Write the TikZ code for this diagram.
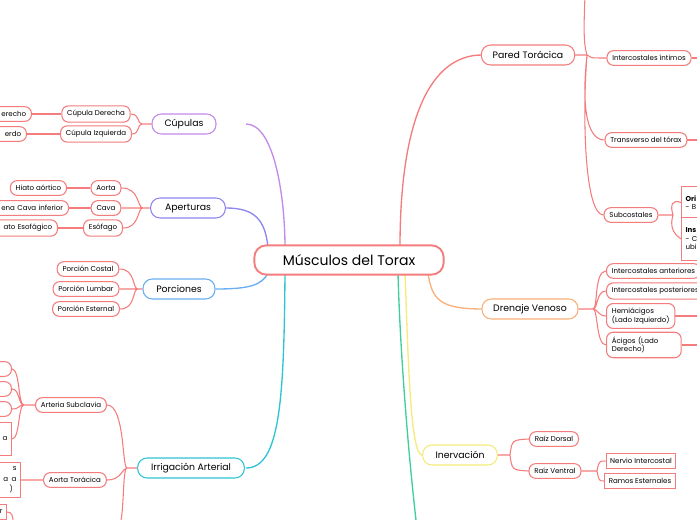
\documentclass[tikz,border=0pt]{standalone}
\usepackage{fontspec}
\setmainfont{Poppins}
\definecolor{crl}{HTML}{F47C7C}
\definecolor{cpur}{HTML}{C38AE8}
\definecolor{capc}{HTML}{8F86F0}
\definecolor{cpor}{HTML}{6AAEF2}
\definecolor{cirr}{HTML}{2EC4D2}
\definecolor{cgrn}{HTML}{3ECF9A}
\definecolor{cdr}{HTML}{F9B07A}
\definecolor{cin}{HTML}{F5EB7A}
\begin{document}
\begin{tikzpicture}[x=0.75pt,y=-0.75pt,
 leaf/.style={draw=crl,line width=0.8pt,rounded corners=5pt,fill=white,font=\fontsize{5.3}{6.5}\selectfont,minimum height=11pt,inner xsep=4pt},
 rbox/.style={draw=crl,line width=0.8pt,fill=white,font=\fontsize{5.3}{6.5}\selectfont,minimum height=11pt,inner xsep=3pt},
 main/.style={line width=0.8pt,rounded corners=7pt,fill=white,font=\fontsize{7}{8}\selectfont,minimum height=15pt},
 rl/.style={crl,line width=0.8pt},
 bl/.style={line width=1pt}]
\useasboundingbox (0,0) rectangle (697,520);
\clip (0,0) rectangle (697,520);
% central branches
\draw[bl,cpur] (246,124) .. controls (275,124) and (285,200) .. (285,247);
\draw[bl,capc] (226,208) .. controls (255,208) and (265,220) .. (268,247);
\draw[bl,cpor] (216,289) .. controls (250,289) and (262,285) .. (268,273);
\draw[bl,cirr] (246,468) .. controls (280,468) and (284,400) .. (285,273);
\draw[bl,crl] (482,55) .. controls (430,55) and (400,120) .. (400,247);
\draw[bl,cdr] (483,309) .. controls (440,309) and (432,300) .. (428,273);
\draw[bl,cin] (422,455) .. controls (410,455) and (408,350) .. (405,273);
\draw[bl,cgrn] (398,273) .. controls (400,350) and (408,450) .. (416,520);
\node[main,draw=crl,line width=1.4pt,rounded corners=9pt,minimum width=142pt,font=\fontsize{10.5}{12}\selectfont,minimum height=22pt] (c) at (349,260) {Músculos del Torax};
% left: Cúpulas
\node[main,draw=cpur,minimum width=48pt] (cup) at (184,124) {Cúpulas};
\node[leaf] (cd) at (96,114) {Cúpula Derecha};
\node[leaf] (ci) at (96,134) {Cúpula Izquierda};
\node[leaf,anchor=east,text width=60pt,align=right] (cd2) at (32,114) {erecho};
\node[leaf,anchor=east,text width=60pt,align=right] (ci2) at (27,134) {erdo};
\coordinate (jc) at (142,124);
\draw[rl] (cup.west)--(jc) (jc) .. controls (137,124) and (140,114) .. (cd.east) (jc) .. controls (137,124) and (140,134) .. (ci.east);
\draw[rl] (cd.west)--(cd2.east) (ci.west)--(ci2.east);
% Aperturas
\node[main,draw=capc,minimum width=56pt] (ap) at (188,208) {Aperturas};
\node[leaf] (ao) at (106,188) {Aorta};
\node[leaf] (ca) at (106,208) {Cava};
\node[leaf] (es) at (103,228) {Esófago};
\node[leaf,anchor=east] (ha) at (67,188) {Hiato aórtico};
\node[leaf,anchor=east,text width=80pt,align=right] (vc) at (69,208) {ena Cava inferior};
\node[leaf,anchor=east,text width=70pt,align=right] (he) at (58,228) {ato Esofágico};
\coordinate (ja) at (143,208);
\draw[rl] (ap.west)--(ja) (ja)--(ca.east) (ja) .. controls (137,208) and (140,188) .. (ao.east) (ja) .. controls (137,208) and (140,228) .. (es.east);
\draw[rl] (ao.west)--(ha.east) (ca.west)--(vc.east) (es.west)--(he.east);
% Porciones
\node[main,draw=cpor,minimum width=54pt] (po) at (179,289) {Porciones};
\node[leaf] (pc) at (88,269) {Porción Costal};
\node[leaf] (pl) at (86,289) {Porción Lumbar};
\node[leaf] (pe) at (86,309) {Porción Esternal};
\coordinate (jp) at (138,289);
\draw[rl] (po.west)--(jp) (jp)--(pl.east) (jp) .. controls (132,289) and (136,269) .. (pc.east) (jp) .. controls (132,289) and (136,309) .. (pe.east);
% Irrigación
\node[main,draw=cirr,minimum width=80pt] (ir) at (191,468) {Irrigación Arterial};
\node[leaf] (as) at (71,405) {Arteria Subclavia};
\node[leaf] (at) at (75,480) {Aorta Torácica};
\coordinate (ji) at (127,468);
\draw[rl] (ir.west)--(ji) (ji) .. controls (122,468) and (125,405) .. (as.east) (ji) .. controls (122,468) and (122,480) .. (at.east) (ji) .. controls (122,468) and (125,520) .. (118,530);
\node[leaf,anchor=east,text width=30pt] (s1) at (12,369) {};
\node[leaf,anchor=east,text width=30pt] (s2) at (12,389) {};
\node[leaf,anchor=east,text width=30pt] (s3) at (12,409) {};
\node[rbox,anchor=east,text width=30pt,minimum height=25pt,align=right] (s4) at (12,439) {a};
\node[rbox,anchor=east,text width=30pt,minimum height=25pt,align=right,font=\fontsize{5.3}{8}\selectfont] (s5) at (21,480) {s\\a\enspace a\\)\enspace};
\node[rbox,anchor=east,text width=30pt,align=right] (s6) at (7,512) {r};
\coordinate (js) at (24,405);
\draw[rl] (as.west)--(js) (js) .. controls (18,405) and (20,369) .. (s1.east) (js) .. controls (18,405) and (20,389) .. (s2.east) (js) .. controls (18,405) and (20,409) .. (s3.east) (js) .. controls (18,405) and (20,439) .. (s4.east);
\draw[rl] (at.west)--(s5.east) (s6.east) .. controls (12,512) and (13,516) .. (13,522);
% Pared Torácica
\node[main,draw=crl,minimum width=70pt] (pt) at (528,55) {Pared Torácica};
\node[leaf] (ii) at (649,58) {Intercostales íntimos};
\node[leaf] (tt) at (646,140) {Transverso del tórax};
\node[leaf] (sc) at (631,215) {Subcostales};
\node[rbox,anchor=north west,text width=40pt,align=left,minimum height=24pt] (ori) at (681,186) {\textbf{Ori}\\ - B};
\node[rbox,anchor=north west,text width=40pt,align=left,minimum height=32pt] (ins) at (681,217) {\textbf{Ins}\\ - C\\ubi};
\coordinate (jw) at (587,55);
\draw[rl] (pt.east)--(jw) (jw) .. controls (590,58) .. (ii.west) (jw) .. controls (582,100) and (585,140) .. (tt.west) (jw) .. controls (582,120) and (585,215) .. (sc.west) (jw) .. controls (582,40) and (585,10) .. (585,-10);
\draw[rl] (ii.east)--(705,58) (tt.east)--(705,140);
\coordinate (jsc) at (673,215);
\draw[rl] (sc.east)--(jsc) (jsc) .. controls (670,205) and (672,199) .. (ori.west) (jsc) .. controls (670,225) and (672,233) .. (ins.west);
% Drenaje
\node[main,draw=cdr,minimum width=72pt] (dv) at (530,309) {Drenaje Venoso};
\node[leaf,anchor=west] (ia) at (606,271) {Intercostales anteriores};
\node[leaf,anchor=west] (ip) at (606,291) {Intercostales posteriores};
\node[leaf,anchor=west,align=left] (hm) at (606,316) {Hemiácigos\\(Lado Izquierdo)};
\node[leaf,anchor=west,align=left,text width=48pt] (ac) at (606,345) {Ácigos (Lado\\Derecho)};
\coordinate (jd) at (593,309);
\draw[rl] (dv.east)--(jd) (jd) .. controls (598,309) and (594,271) .. (ia.west) (jd) .. controls (598,309) and (596,291) .. (ip.west) (jd) .. controls (598,309) and (598,316) .. (hm.west) (jd) .. controls (598,309) and (596,345) .. (ac.west);
\draw[rl] (hm.east)--(705,316) (ac.east)--(705,345);
% Inervación
\node[main,draw=cin,minimum width=56pt] (in) at (460,455) {Inervación};
\node[leaf] (rd) at (554,439) {Raíz Dorsal};
\node[leaf] (rv) at (555,471) {Raíz Ventral};
\node[rbox] (ni) at (641,461) {Nervio Intercostal};
\node[rbox] (re) at (640,481) {Ramos Esternales};
\coordinate (jn) at (510,455);
\draw[rl] (in.east)--(jn) (jn) .. controls (512,440) .. (rd.west) (jn) .. controls (512,470) .. (rv.west);
\coordinate (jr) at (597,471);
\draw[rl] (rv.east)--(jr) (jr) .. controls (599,461) .. (ni.west) (jr) .. controls (599,481) .. (re.west);
\end{tikzpicture}
\end{document}
